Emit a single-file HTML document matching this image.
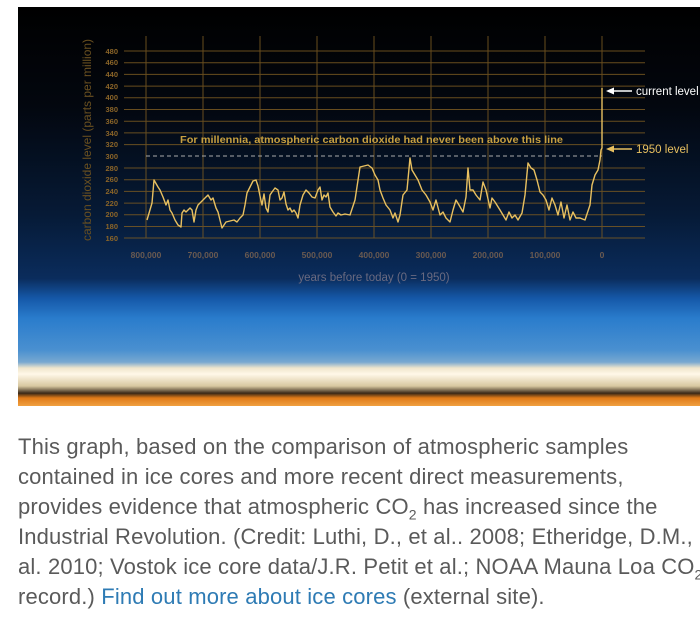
<!DOCTYPE html>
<html><head><meta charset="utf-8"><style>
body{margin:0;width:700px;height:634px;background:#fff;overflow:hidden;position:relative;font-family:"Liberation Sans",sans-serif}
.panel{position:absolute;left:18px;top:7px;width:682px;height:399px;background:linear-gradient(to bottom,#000 0%,#03070f 25%,#061a36 52%,#0a2c5c 68%,#1558a8 73%,#2a7ccc 78%,#4a90d0 86%,#78a8d0 89%,#f0e6cc 90.5%,#fff8e8 92%,#d8c8a0 95%,#3a2818 96.8%,#e07a18 98%,#f0a040 100%)}
.txt{position:absolute;left:18px;top:432px;font-size:22px;line-height:30px;color:#5a5a5a;white-space:nowrap;letter-spacing:0.15px}
.txt a{color:#2e7bb4;text-decoration:none}
sub{font-size:14px;line-height:0}
</style></head><body>
<div class="panel"></div>
<svg width="700" height="420" style="position:absolute;left:0;top:0" font-family="Liberation Sans,sans-serif">
<g stroke="#7a5a22" stroke-width="1" opacity="0.85">
<line x1="124" x2="645" y1="51" y2="51"/><line x1="124" x2="645" y1="62.7" y2="62.7"/><line x1="124" x2="645" y1="74.4" y2="74.4"/><line x1="124" x2="645" y1="86.1" y2="86.1"/><line x1="124" x2="645" y1="97.8" y2="97.8"/><line x1="124" x2="645" y1="109.5" y2="109.5"/><line x1="124" x2="645" y1="121.2" y2="121.2"/><line x1="124" x2="645" y1="132.9" y2="132.9"/><line x1="124" x2="645" y1="144.6" y2="144.6"/><line x1="124" x2="645" y1="168" y2="168"/><line x1="124" x2="645" y1="179.7" y2="179.7"/><line x1="124" x2="645" y1="191.4" y2="191.4"/><line x1="124" x2="645" y1="203.1" y2="203.1"/><line x1="124" x2="645" y1="214.8" y2="214.8"/><line x1="124" x2="645" y1="226.5" y2="226.5"/><line x1="124" x2="645" y1="238" y2="238"/>
<line x1="146" x2="146" y1="36" y2="238"/><line x1="203" x2="203" y1="36" y2="238"/><line x1="260" x2="260" y1="36" y2="238"/><line x1="317" x2="317" y1="36" y2="238"/><line x1="374" x2="374" y1="36" y2="238"/><line x1="431" x2="431" y1="36" y2="238"/><line x1="488" x2="488" y1="36" y2="238"/><line x1="545" x2="545" y1="36" y2="238"/><line x1="602" x2="602" y1="36" y2="238"/>
</g>
<line x1="146" x2="602" y1="156" y2="156" stroke="#aaa" stroke-dasharray="4,3" stroke-width="1"/>
<g fill="#8a6428" font-size="7.5" font-weight="bold" text-anchor="end">
<text x="118" y="54">480</text><text x="118" y="65">460</text><text x="118" y="77">440</text><text x="118" y="89">420</text><text x="118" y="100">400</text><text x="118" y="112">380</text><text x="118" y="124">360</text><text x="118" y="136">340</text><text x="118" y="147">320</text><text x="118" y="159">300</text><text x="118" y="171">280</text><text x="118" y="182">260</text><text x="118" y="194">240</text><text x="118" y="206">220</text><text x="118" y="217">200</text><text x="118" y="229">180</text><text x="118" y="241">160</text>
</g>
<g fill="#6a5a50" font-size="8.5" font-weight="bold" text-anchor="middle">
<text x="146" y="258">800,000</text><text x="203" y="258">700,000</text><text x="260" y="258">600,000</text><text x="317" y="258">500,000</text><text x="374" y="258">400,000</text><text x="431" y="258">300,000</text><text x="488" y="258">200,000</text><text x="545" y="258">100,000</text><text x="602" y="258">0</text>
</g>
<text x="374" y="281" fill="#6a6a80" font-size="11.5" text-anchor="middle">years before today (0 = 1950)</text>
<text transform="translate(91,140) rotate(-90)" fill="#6a5020" font-size="12" text-anchor="middle">carbon dioxide level (parts per million)</text>
<text x="180" y="143" fill="#c8a040" font-size="10.5" font-weight="bold" textLength="383" lengthAdjust="spacingAndGlyphs">For millennia, atmospheric carbon dioxide had never been above this line</text>
<polyline fill="none" stroke="#e8c060" stroke-width="1.4" stroke-linejoin="round" points="147,220 152,203 154,180 158,187 160,190 163,197 166,205 168,200 170,210 172,213 175,220 178,225 181,227 182,213 184,210 186,212 188,210 190,208 192,210 194,222 196,210 198,205 200,203 203,200 206,197 208,195 211,200 213,198 216,208 218,212 220,220 222,228 224,225 226,222 230,221 234,220 237,222 240,218 243,215 245,205 247,193 250,187 253,181 256,180 258,186 260,196 262,205 264,194 266,208 268,212 270,195 272,192 275,188 278,190 280,200 282,198 284,192 286,204 288,210 290,208 292,212 294,210 296,213 298,218 300,205 303,195 306,190 309,193 312,197 315,198 318,190 320,187 322,200 324,195 326,197 328,193 330,207 333,212 336,216 338,213 341,215 345,214 350,215 355,200 360,167 368,165 372,168 375,175 378,180 380,190 383,198 386,205 390,210 393,218 395,213 398,222 400,215 403,195 407,190 410,158 412,170 415,175 418,180 422,190 426,195 430,202 433,210 436,200 440,215 443,212 446,218 450,222 453,210 456,200 459,205 463,212 466,197 468,168 470,190 473,190 476,195 480,200 483,182 486,190 490,208 492,198 495,202 500,210 503,215 506,220 509,212 512,218 515,215 518,220 522,213 525,195 528,163 531,168 534,170 537,180 540,192 543,195 546,200 549,210 552,198 555,205 558,215 561,202 564,218 567,205 570,220 573,212 576,218 580,218 585,220 590,205 592,185 595,175 598,170 600,160 601,150 602,148 602,88"/>
<line x1="612" y1="91" x2="632" y2="91" stroke="#fff" stroke-width="1.5"/><polygon points="606,91 614,87.5 614,94.5" fill="#fff"/>
<text x="636" y="95" fill="#fff" font-size="11.5">current level</text>
<line x1="612" y1="149" x2="632" y2="149" stroke="#e8c060" stroke-width="1.5"/><polygon points="606,149 614,145.5 614,152.5" fill="#e8c060"/>
<text x="636" y="153" fill="#e8c060" font-size="11.5">1950 level</text>
</svg>
<div class="txt">This graph, based on the comparison of atmospheric samples<br>contained in ice cores and more recent direct measurements,<br>provides evidence that atmospheric CO<sub>2</sub> has increased since the<br>Industrial Revolution. (Credit: Luthi, D., et al.. 2008; Etheridge, D.M., et<br>al. 2010; Vostok ice core data/J.R. Petit et al.; NOAA Mauna Loa CO<sub>2</sub><br>record.) <a>Find out more about ice cores</a> (external site).</div>
</body></html>
